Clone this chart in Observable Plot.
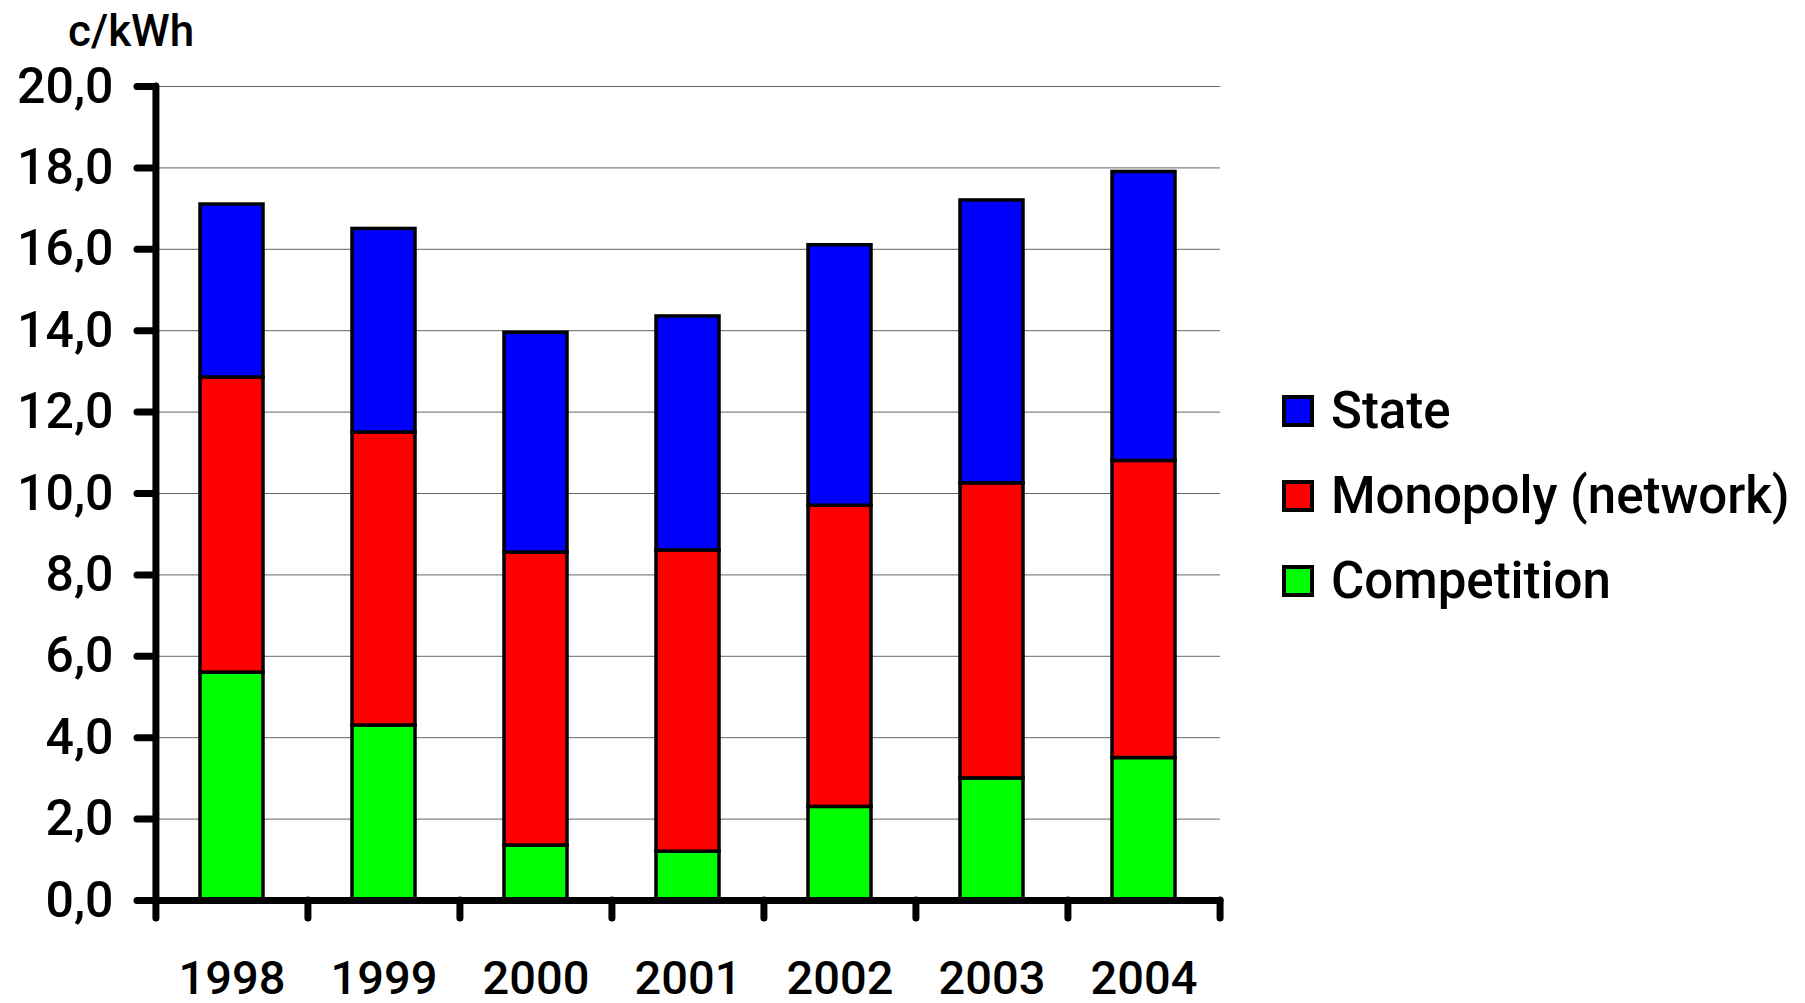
<!DOCTYPE html>
<html>
<head>
<meta charset="utf-8">
<script src="https://cdn.jsdelivr.net/npm/d3@7"></script>
<script src="https://cdn.jsdelivr.net/npm/@observablehq/plot@0.6"></script>
<style>
  html, body { margin: 0; padding: 0; background: #fff; }
  #wrap { position: relative; width: 1805px; height: 1003px; font-family: Roboto, "DejaVu Sans", sans-serif; font-weight: 500; color: #000; }
  #unit { position: absolute; left: 68px; top: 9px; font-size: 44px; line-height: 1; }
  .row { position: absolute; left: 1282px; height: 52px; display: flex; align-items: center; font-size: 51px; line-height: 52px; white-space: nowrap; }
  .sw { width: 32px; height: 32px; box-sizing: border-box; border: 4px solid #000; margin-right: 17px; }
</style>
</head>
<body>
<div id="wrap">
  <div id="unit">c/kWh</div>
</div>
<script>
// Electricity price components per year, c/kWh
const years = ["1998", "1999", "2000", "2001", "2002", "2003", "2004"];
const competition = [5.6, 4.3, 1.35, 1.2, 2.3, 3.0, 3.5];
const monopoly = [7.25, 7.2, 7.2, 7.4, 7.4, 7.25, 7.3];
const state = [4.25, 5.0, 5.4, 5.75, 6.4, 6.95, 7.1];

// stacking order bottom → top
const seriesNames = ["Competition", "Monopoly (network)", "State"];
const seriesColors = ["#00ff00", "#ff0000", "#0000ff"];
const seriesValues = [competition, monopoly, state];

const yTicks = d3.range(0, 21, 2);

const rows = [];
seriesNames.forEach((name, s) => {
  years.forEach((year, i) => rows.push({year, series: name, value: seriesValues[s][i]}));
});

const W = 1805, H = 1003;
const mL = 155, mR = 585, mT = 86, mB = 103;
const halfStep = (W - mL - mR) / years.length / 2;

const chart = Plot.plot({
  width: W,
  height: H,
  marginLeft: mL,
  marginRight: mR,
  marginTop: mT,
  marginBottom: mB,
  style: {fontFamily: "Roboto, 'DejaVu Sans', sans-serif", fontWeight: 500, background: "#fff", color: "#000", overflow: "visible"},
  x: {domain: years, paddingInner: 0.585, paddingOuter: 0.2925, axis: null},
  y: {domain: [0, 20], axis: null},
  color: {domain: seriesNames, range: seriesColors},
  marks: [
    Plot.ruleY(yTicks.filter(d => d > 0), {stroke: "#666", strokeWidth: 1}),
    Plot.barY(rows, {
      x: "year", y: "value", z: "series", fill: "series",
      order: seriesNames,
      stroke: "#000", strokeWidth: 3.5
    }),
    // left axis line
    Plot.ruleX([years[0]], {x: d => d, y1: 0, y2: 20, dx: -halfStep, strokeWidth: 7, strokeLinecap: "round"}),
    // baseline
    Plot.ruleY([0], {strokeWidth: 7, strokeLinecap: "round"}),
    Plot.axisY(yTicks, {
      tickSize: 18, tickPadding: 24, strokeWidth: 7, strokeLinecap: "round",
      fontSize: 50, label: null,
      tickFormat: d => d.toFixed(1).replace(".", ",")
    }),
    // category boundary ticks
    Plot.axisX(years, {tickSize: 18, strokeWidth: 7, strokeLinecap: "round", dx: -halfStep, tickFormat: () => "", label: null}),
    Plot.axisX([years[years.length - 1]], {tickSize: 18, strokeWidth: 7, strokeLinecap: "round", dx: halfStep, tickFormat: () => "", label: null}),
    // year labels
    Plot.axisX(years, {tickSize: 0, tickPadding: 60, fontSize: 47, label: null})
  ]
});

const wrap = document.getElementById("wrap");
wrap.prepend(chart);
chart.style.position = "absolute";
chart.style.left = "0";
chart.style.top = "0";

// legend, State on top
const legendCenters = [581, 496, 411];
seriesNames.forEach((name, s) => {
  const row = document.createElement("div");
  row.className = "row";
  row.style.top = (legendCenters[s] - 26) + "px";
  const sw = document.createElement("div");
  sw.className = "sw";
  sw.style.background = seriesColors[s];
  const label = document.createElement("span");
  label.textContent = name;
  row.append(sw, label);
  wrap.append(row);
});
</script>
</body>
</html>
